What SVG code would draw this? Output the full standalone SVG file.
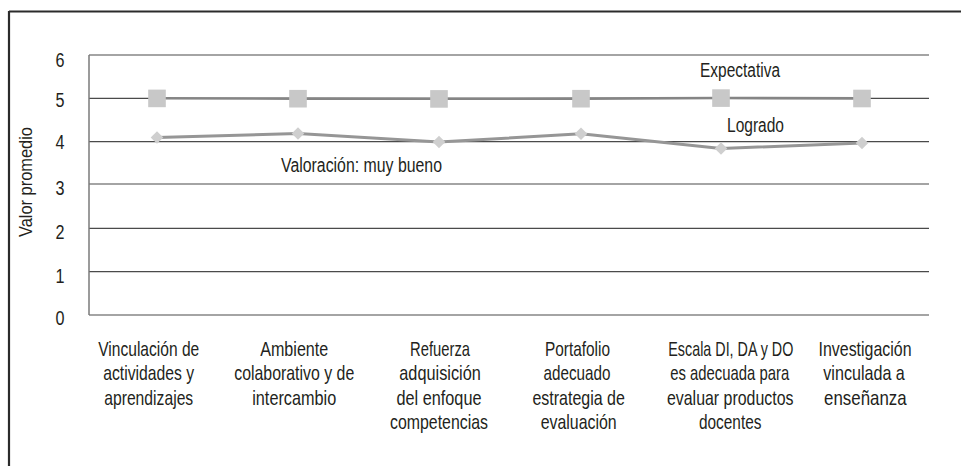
<svg xmlns="http://www.w3.org/2000/svg" width="961" height="466" viewBox="0 0 961 466">
<style>
text{font-family:"Liberation Sans",Arial,sans-serif;fill:#231f20;font-size:20px}
.grid{stroke:#4a4a4a;stroke-width:1.2;fill:none}
.ax{stroke:#7a7a7a;stroke-width:1.5;fill:none}
.cat text{text-anchor:middle}
.yl{text-anchor:middle;font-size:19.5px}
.sq{fill:#c8c8c8}
.dm{fill:#cfcfcf}
.exp{stroke:#858585;stroke-width:2.6;fill:none}
.log{stroke:#969696;stroke-width:3;fill:none}
</style>
<rect width="961" height="466" fill="#fff"/>
<g id="frame">
<line x1="9" y1="11.5" x2="961" y2="11.5" stroke="#2b2b2b" stroke-width="2.2"/>
<line x1="9" y1="11" x2="9" y2="466" stroke="#2b2b2b" stroke-width="2.2"/>
</g>
<g id="grid">
<line class="grid" x1="89" y1="55" x2="929" y2="55"/>
<line class="grid" x1="89" y1="98.3" x2="929" y2="98.3"/>
<line class="grid" x1="89" y1="141.7" x2="929" y2="141.7"/>
<line class="grid" x1="89" y1="184" x2="929" y2="184"/>
<line class="grid" x1="89" y1="228.3" x2="929" y2="228.3"/>
<line class="grid" x1="89" y1="271.7" x2="929" y2="271.7"/>
<line class="grid" x1="89" y1="315" x2="929" y2="315"/>
<line class="ax" x1="89" y1="55" x2="89" y2="315"/>
</g>
<g id="yaxis">
<text class="yl" x="60" y="67" textLength="9" lengthAdjust="spacingAndGlyphs">6</text>
<text class="yl" x="60" y="107" textLength="9" lengthAdjust="spacingAndGlyphs">5</text>
<text class="yl" x="60" y="149" textLength="9" lengthAdjust="spacingAndGlyphs">4</text>
<text class="yl" x="60" y="195" textLength="9" lengthAdjust="spacingAndGlyphs">3</text>
<text class="yl" x="60" y="239" textLength="9" lengthAdjust="spacingAndGlyphs">2</text>
<text class="yl" x="60" y="283" textLength="9" lengthAdjust="spacingAndGlyphs">1</text>
<text class="yl" x="60" y="325" textLength="9" lengthAdjust="spacingAndGlyphs">0</text>
<text transform="translate(32,182) rotate(-90)" text-anchor="middle" style="font-size:18px" textLength="110" lengthAdjust="spacingAndGlyphs">Valor promedio</text>
</g>
<g id="connectors">
<polyline class="exp" points="157,98.3 298,98.6 439,98.8 581,98.6 721,98 862,98.4"/>
<polyline class="log" points="157,137.5 298,133.5 439,142 581,133.8 721,148.5 862,143"/>
</g>
<g id="expectativa">
<rect class="sq" x="148.2" y="89.6" width="17.6" height="17.6"/>
<rect class="sq" x="289.2" y="89.9" width="17.6" height="17.6"/>
<rect class="sq" x="430.2" y="90.1" width="17.6" height="17.6"/>
<rect class="sq" x="572.2" y="89.9" width="17.6" height="17.6"/>
<rect class="sq" x="712.2" y="89.3" width="17.6" height="17.6"/>
<rect class="sq" x="853.2" y="89.7" width="17.6" height="17.6"/>
<text x="740" y="77" text-anchor="middle" textLength="80" lengthAdjust="spacingAndGlyphs">Expectativa</text>
</g>
<g id="logrado">
<polygon class="dm" points="157,131.2 163.3,137.5 157,143.8 150.7,137.5"/>
<polygon class="dm" points="298,127.2 304.3,133.5 298,139.8 291.7,133.5"/>
<polygon class="dm" points="439,135.7 445.3,142 439,148.3 432.7,142"/>
<polygon class="dm" points="581,127.5 587.3,133.8 581,140.1 574.7,133.8"/>
<polygon class="dm" points="721,142.2 727.3,148.5 721,154.8 714.7,148.5"/>
<polygon class="dm" points="862,136.7 868.3,143 862,149.3 855.7,143"/>
<text x="755.5" y="132" text-anchor="middle" textLength="57" lengthAdjust="spacingAndGlyphs">Logrado</text>
</g>
<g id="valoracion">
<text x="361.5" y="172" text-anchor="middle" textLength="161" lengthAdjust="spacingAndGlyphs">Valoración: muy bueno</text>
</g>
<g id="categories">
<g id="cat1" class="cat" transform="translate(148.7,0) scale(0.75,1)">
<text x="0" y="356" textLength="134.7" lengthAdjust="spacingAndGlyphs">Vinculación de</text>
<text x="0" y="380.5" textLength="121.3" lengthAdjust="spacingAndGlyphs">actividades y</text>
<text x="0" y="405" textLength="118.7" lengthAdjust="spacingAndGlyphs">aprendizajes</text>
</g>
<g id="cat2" class="cat" transform="translate(294.2,0) scale(0.75,1)">
<text x="0" y="356" textLength="90.7" lengthAdjust="spacingAndGlyphs">Ambiente</text>
<text x="0" y="380.5" textLength="160" lengthAdjust="spacingAndGlyphs">colaborativo y de</text>
<text x="0" y="405" textLength="112" lengthAdjust="spacingAndGlyphs">intercambio</text>
</g>
<g id="cat3" class="cat" transform="translate(439.5,0) scale(0.75,1)">
<text x="0.7" y="356" textLength="80" lengthAdjust="spacingAndGlyphs">Refuerza</text>
<text x="0.7" y="380.5" textLength="108.7" lengthAdjust="spacingAndGlyphs">adquisición</text>
<text x="-0.7" y="405" textLength="113.3" lengthAdjust="spacingAndGlyphs">del enfoque</text>
<text x="-0.7" y="429.5" textLength="130.7" lengthAdjust="spacingAndGlyphs">competencias</text>
</g>
<g id="cat4" class="cat" transform="translate(578,0) scale(0.75,1)">
<text x="-0.7" y="356" textLength="86.7" lengthAdjust="spacingAndGlyphs">Portafolio</text>
<text x="-1.3" y="380.5" textLength="89.3" lengthAdjust="spacingAndGlyphs">adecuado</text>
<text x="0.9" y="405" textLength="123.3" lengthAdjust="spacingAndGlyphs">estrategia de</text>
<text x="0.9" y="429.5" textLength="101.3" lengthAdjust="spacingAndGlyphs">evaluación</text>
</g>
<g id="cat5" class="cat" transform="translate(730.2,0) scale(0.75,1)">
<text x="0.8" y="356" textLength="166.7" lengthAdjust="spacingAndGlyphs">Escala DI, DA y DO</text>
<text x="-0.7" y="380.5" textLength="158.7" lengthAdjust="spacingAndGlyphs">es adecuada para</text>
<text x="0" y="405" textLength="168.7" lengthAdjust="spacingAndGlyphs">evaluar productos</text>
<text x="0" y="429.5" textLength="83.3" lengthAdjust="spacingAndGlyphs">docentes</text>
</g>
<g id="cat6" class="cat" transform="translate(864.8,0) scale(0.75,1)">
<text x="0.3" y="356" textLength="124" lengthAdjust="spacingAndGlyphs">Investigación</text>
<text x="-1" y="380.5" textLength="108.7" lengthAdjust="spacingAndGlyphs">vinculada a</text>
<text x="0.7" y="405" textLength="110" lengthAdjust="spacingAndGlyphs">enseñanza</text>
</g>
</g>
</svg>
